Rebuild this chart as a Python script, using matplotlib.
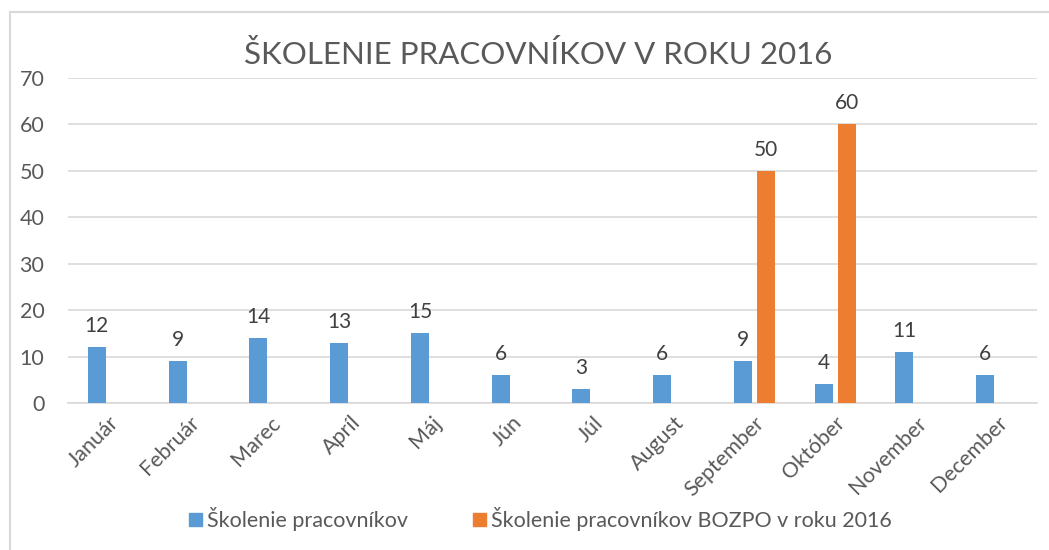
import numpy as np
import matplotlib.pyplot as plt
from matplotlib.patches import Patch
from matplotlib.lines import Line2D

plt.rcParams['font.family'] = ['Lato', 'DejaVu Sans']

mesiace = ['Január', 'Február', 'Marec', 'Apríl', 'Máj', 'Jún', 'Júl',
           'August', 'September', 'Október', 'November', 'December']
skolenie = [12, 9, 14, 13, 15, 6, 3, 6, 9, 4, 11, 6]
bozpo = [np.nan] * 8 + [50, 60] + [np.nan] * 2

modra = '#5B9BD5'
oranzova = '#ED7D31'
sediva = '#595959'

fig = plt.figure(figsize=(10.49, 5.5), dpi=100)
ax = fig.add_axes([0.0648, 0.2673, 0.9238, 0.5909])

x = np.arange(len(mesiace))
w = 0.223
off = 0.142
b1 = ax.bar(x - off, skolenie, w, color=modra, zorder=3)
b2 = ax.bar(x + off, bozpo, w, color=oranzova, zorder=3)

for rect, v in zip(b1, skolenie):
    ax.annotate(str(v), (rect.get_x() + rect.get_width() / 2, v),
                xytext=(0, 8), textcoords='offset points',
                ha='center', va='bottom', fontsize=15, color='#404040')
for rect, v in zip(b2, bozpo):
    if not np.isnan(v):
        ax.annotate(str(int(v)), (rect.get_x() + rect.get_width() / 2, v),
                    xytext=(0, 8), textcoords='offset points',
                    ha='center', va='bottom', fontsize=15, color='#404040')

ax.set_xlim(-0.5, len(mesiace) - 0.5)
ax.set_ylim(0, 70)
ax.set_yticks(range(0, 71, 10))
ax.set_xticks(x)
ax.set_xticklabels(mesiace, rotation=45, ha='right', rotation_mode='anchor')
ax.tick_params(length=0, labelsize=15.5, colors=sediva)
ax.tick_params(axis='y', pad=17)
ax.tick_params(axis='x', pad=7)
ax.grid(axis='y', color='#D9D9D9', lw=1.2, zorder=0)
for s in ['top', 'right', 'left']:
    ax.spines[s].set_visible(False)
ax.spines['bottom'].set_color('#D9D9D9')
ax.spines['bottom'].set_linewidth(1.2)

fig.text(0.513, 0.9, 'ŠKOLENIE PRACOVNÍKOV V ROKU 2016', ha='center', va='center',
         fontsize=22.5, color=sediva)

handles = [Patch(color=modra), Patch(color=oranzova)]
fig.legend(handles, ['Školenie pracovníkov', 'Školenie pracovníkov BOZPO v roku 2016'],
           loc='center', bbox_to_anchor=(0.515, 0.056), ncol=2, frameon=False,
           fontsize=15.5, labelcolor=sediva, handlelength=0.6, handleheight=0.6,
           handletextpad=0.25, columnspacing=3.0)

# okraj grafu
fig.add_artist(Line2D([10 / 1049, 10 / 1049], [0, 1 - 12 / 550], color='#D9D9D9', lw=1.5))
fig.add_artist(Line2D([10 / 1049, 1], [1 - 12 / 550, 1 - 12 / 550], color='#D9D9D9', lw=1.5))

fig.savefig('out.png', dpi=100)
